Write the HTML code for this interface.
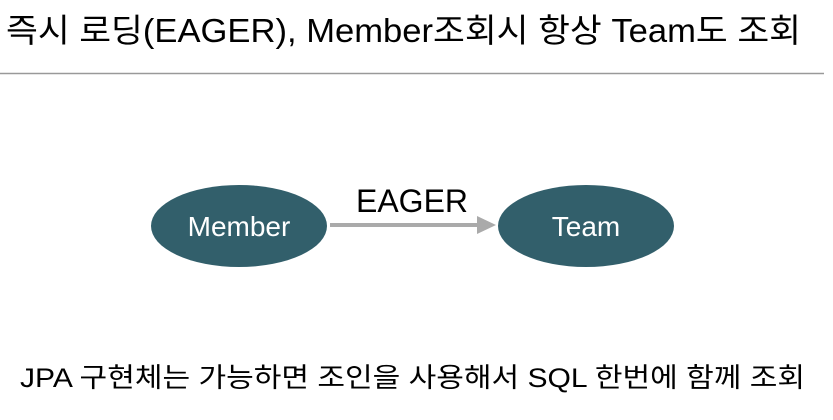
<!DOCTYPE html>
<html><head><meta charset="utf-8"><style>
body{margin:0;width:833px;height:420px;background:#fff;overflow:hidden;font-family:"Liberation Sans","Noto Sans CJK KR",sans-serif;}
</style></head><body>
<svg width="833" height="420" xmlns="http://www.w3.org/2000/svg" style="position:absolute;left:0;top:0">
<text x="6" y="42" font-family="Liberation Sans, Noto Sans CJK KR, sans-serif" font-size="33" fill="#000" textLength="795" lengthAdjust="spacingAndGlyphs">즉시 로딩(EAGER), Member조회시 항상 Team도 조회</text>
<line x1="0" y1="73.5" x2="824" y2="73.5" stroke="#999" stroke-width="1.5"/>
<ellipse cx="239" cy="226" rx="88" ry="41" fill="#325f6b"/>
<ellipse cx="586" cy="226" rx="88" ry="41" fill="#325f6b"/>
<text x="239" y="236" text-anchor="middle" font-size="28" fill="#fff" font-family="Liberation Sans, sans-serif">Member</text>
<text x="586" y="236" text-anchor="middle" font-size="28" fill="#fff" font-family="Liberation Sans, sans-serif">Team</text>
<line x1="330" y1="225" x2="479" y2="225" stroke="#aaa" stroke-width="4"/>
<polygon points="477,216 496,225 477,234" fill="#aaa"/>
<text x="412" y="212" text-anchor="middle" font-size="32" fill="#000" font-family="Liberation Sans, sans-serif">EAGER</text>
<text x="20" y="387" font-family="Liberation Sans, Noto Sans CJK KR, sans-serif" font-size="27" fill="#000" textLength="785" lengthAdjust="spacingAndGlyphs">JPA 구현체는 가능하면 조인을 사용해서 SQL 한번에 함께 조회</text>
</svg>
</body></html>
